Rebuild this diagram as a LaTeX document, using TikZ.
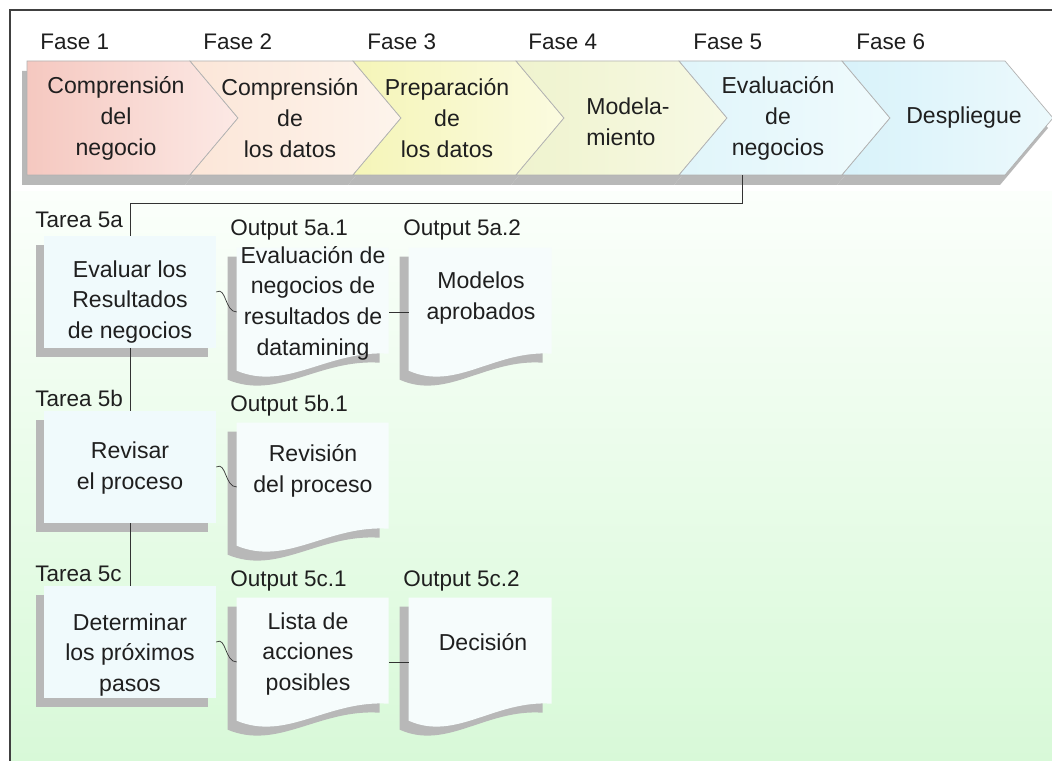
\documentclass[tikz,border=0pt]{standalone}
\usepackage{fontspec}
\setmainfont{Liberation Sans}
\usetikzlibrary{shadows}

\definecolor{phAl}{RGB}{245,200,192}
\definecolor{phAr}{RGB}{252,233,229}
\definecolor{phBl}{RGB}{252,230,216}
\definecolor{phBr}{RGB}{253,244,236}
\definecolor{phCl}{RGB}{245,245,184}
\definecolor{phCr}{RGB}{251,251,224}
\definecolor{phDl}{RGB}{239,243,206}
\definecolor{phDr}{RGB}{247,249,228}
\definecolor{phEl}{RGB}{224,245,250}
\definecolor{phEr}{RGB}{240,251,253}
\definecolor{phFl}{RGB}{216,242,250}
\definecolor{phFr}{RGB}{236,249,252}
\definecolor{boxfill}{RGB}{240,250,252}
\definecolor{docwhite}{RGB}{246,252,252}
\definecolor{bgtop}{RGB}{251,255,251}
\definecolor{bgbot}{RGB}{216,249,216}

\newcommand\docoutline[1]{(0,0) -- (#1,0) -- (#1,106) .. controls ({0.6*#1},102) and ({0.33*#1},144) .. (0,123) -- cycle}
\newcommand\docshape[2]{%
  \fill[docshadow, shift={(#1.north west)}, shift={(-9,9)}] \docoutline{#2};
  \fill[docfill, shift={(#1.north west)}] \docoutline{#2};
}

\begin{document}
\begin{tikzpicture}[x=0.025cm, y=-0.025cm,
  txt/.style={text=black!88, inner sep=0pt},
  tag/.style={txt, font=\fontsize{16}{19}\selectfont, anchor=base west},
  phase/.style={txt, align=center, font=\fontsize{16.4}{22}\selectfont, minimum height=2.85cm},
  chevron/.style={draw=gray!60, line width=0.5pt},
  task/.style={rectangle, fill=boxfill, minimum width=4.3cm, minimum height=2.8cm, inner sep=0pt,
               drop shadow={shadow xshift=-0.2cm, shadow yshift=-0.225cm, fill=black!28, opacity=1}},
  doc/.style={rectangle, minimum height=3.2cm, inner sep=0pt},
  body/.style={txt, align=center, font=\fontsize{16.4}{21.8}\selectfont},
  docfill/.style={fill=docwhite},
  docshadow/.style={fill=black!28},
  link/.style={draw=black!80, line width=0.5pt}
]
\useasboundingbox (0,0) rectangle (1052,761);
\fill[white] (0,0) rectangle (1052,761);
\shade[top color=bgtop, bottom color=bgbot] (10,192) rectangle (1052,761);
\draw[black!75, line width=1pt] (10,761) -- (10,10) -- (1052,10);

\foreach \k/\n in {0/0, 1/48, 2/48, 3/48, 4/48, 5/48}
  \fill[black!28, shift={({27+163*\k-5},10)}] (0,61) -- (163,61) -- (211,118) -- (163,175) -- (0,175) -- (\n,118) -- cycle;
\foreach \k/\n/\cl/\cr in {0/0/phAl/phAr, 1/48/phBl/phBr, 2/48/phCl/phCr, 3/48/phDl/phDr, 4/48/phEl/phEr, 5/48/phFl/phFr}
  \path[chevron, left color=\cl, right color=\cr, shift={({27+163*\k},0)}] (0,61) -- (163,61) -- (211,118) -- (163,175) -- (0,175) -- (\n,118) -- cycle;

\node[tag] (f1) at (40,50)  {Fase 1};
\node[tag] (f2) at (203,50) {Fase 2};
\node[tag] (f3) at (367,50) {Fase 3};
\node[tag] (f4) at (528,50) {Fase 4};
\node[tag] (f5) at (693,50) {Fase 5};
\node[tag] (f6) at (856,50) {Fase 6};

\node[phase] (ph1) at (116,118) {Comprensión\\del\\negocio};
\node[phase] (ph2) at (290,118) {Comprensión\\de\\los datos};
\node[phase] (ph3) at (447,118) {Preparación\\de\\los datos};
\node[phase, align=left] (ph4) at (628,122) {Modela-\\miento};
\node[phase] (ph5) at (778,118) {Evaluación\\de\\negocios};
\node[phase] (ph6) at (964,118) {Despliegue};

\node[tag] (ta) at (35,228) {Tarea 5a};
\node[tag] (tb) at (35,406) {Tarea 5b};
\node[tag] (tc) at (35,581) {Tarea 5c};

\node[task] (t5a) at (130,292) {};
\node[task] (t5b) at (130,467) {};
\node[task] (t5c) at (130,642) {};
\node[body] (tt5a) at (130,302) {Evaluar los\\Resultados\\de negocios};
\node[body] (tt5b) at (130,468) {Revisar\\el proceso};
\node[body] (tt5c) at (130,655) {Determinar\\los próximos\\pasos};

\node[tag] (o5a1) at (230,236) {Output 5a.1};
\node[tag] (o5a2) at (403,236) {Output 5a.2};
\node[tag] (o5b1) at (230,411) {Output 5b.1};
\node[tag] (o5c1) at (230,586) {Output 5c.1};
\node[tag] (o5c2) at (403,586) {Output 5c.2};

\node[doc, minimum width=3.8cm]   (d5a1) at (313,312)   {};
\docshape{d5a1}{152}
\node[doc, minimum width=3.575cm] (d5a2) at (480.5,312) {};
\docshape{d5a2}{143}
\node[doc, minimum width=3.8cm]   (d5b1) at (313,487)   {};
\docshape{d5b1}{152}
\node[doc, minimum width=3.8cm]   (d5c1) at (313,662)   {};
\docshape{d5c1}{152}
\node[doc, minimum width=3.575cm] (d5c2) at (480.5,662) {};
\docshape{d5c2}{143}

\node[body] (dt5a1) at (313,303) {Evaluación de\\negocios de\\resultados de\\datamining};
\node[body] (dt5a2) at (481,298) {Modelos\\aprobados};
\node[body] (dt5b1) at (313,471) {Revisión\\del proceso};
\node[body] (dt5c1) at (308,654) {Lista de\\acciones\\posibles};
\node[body] (dt5c2) at (483,642) {Decisión};

\draw[link] ([xshift=-0.9cm]ph5.south) -- ++(0,28) -| (t5a.north);
\draw[link] (t5a) -- (t5b);
\draw[link] (t5b) -- (t5c);
\draw[link] (t5a.east) .. controls +(10,-6) and +(-12,0) .. (d5a1.west);
\draw[link] (t5b.east) .. controls +(10,-6) and +(-12,0) .. (d5b1.west);
\draw[link] (t5c.east) .. controls +(10,-6) and +(-12,0) .. (d5c1.west);
\draw[link] (d5a1) -- (d5a2);
\draw[link] (d5c1) -- (d5c2);
\end{tikzpicture}
\end{document}
